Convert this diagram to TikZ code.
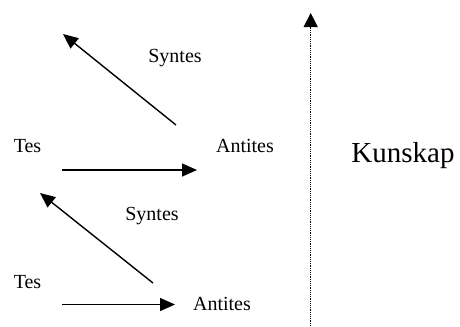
\documentclass[tikz,border=0pt]{standalone}
\usepackage{fontspec}
\setmainfont{Liberation Serif}
\usetikzlibrary{arrows.meta}

\begin{document}
\begin{tikzpicture}[x=1bp, y=-1bp,
            word/.style={%
                font=\fontsize{20bp}{24bp}\selectfont, inner sep=0pt, anchor=base%
            },
            bigword/.style={%
                font=\fontsize{29bp}{34bp}\selectfont, inner sep=0pt, anchor=base%
            },
            arrow/.style={line width=1.4bp, -{Triangle[length=15bp,width=13bp]}},
            dotarrow/.style={line width=1.3bp, dash pattern=on 1.3bp off 0.9bp,
                -{Triangle[length=14bp,width=14bp]}}
        ]
        \useasboundingbox (0,0) rectangle (460,326);

        % Define nodes
        \node (tes_1) [word] at (27.5,152.5) {Tes};
        \node (antites_1) [word] at (245,152.5) {Antites};
        \node (syntes_1) [word] at (175,62.5) {Syntes};
        \node (tes_2) [word] at (27.5,288) {Tes};
        \node (antites_2) [word] at (222,310) {Antites};
        \node (syntes_2) [word] at (152,220) {Syntes};
        \node (kunskap) [bigword] at (403,162) {Kunskap};

        % arrow end points
        \coordinate (tes_1_out) at (62,170);
        \coordinate (antites_1_in) at (197,170);
        \coordinate (syntes_1_from) at (176,125);
        \coordinate (syntes_1_to) at (63,34);
        \coordinate (tes_2_out) at (62,304.5);
        \coordinate (antites_2_in) at (175,304.5);
        \coordinate (syntes_2_from) at (153,283);
        \coordinate (syntes_2_to) at (40,193);
        \coordinate (axis_low) at (310.7,326);
        \coordinate (axis_high) at (310.7,13);

        \draw [arrow] (tes_1_out) -- (antites_1_in);
        \draw [arrow] (syntes_1_from) -- (syntes_1_to);
        \draw [arrow] (tes_2_out) -- (antites_2_in);
        \draw [arrow] (syntes_2_from) -- (syntes_2_to);

        \draw [dotarrow] (axis_low) -- (axis_high);

        \end{tikzpicture}
\end{document}
